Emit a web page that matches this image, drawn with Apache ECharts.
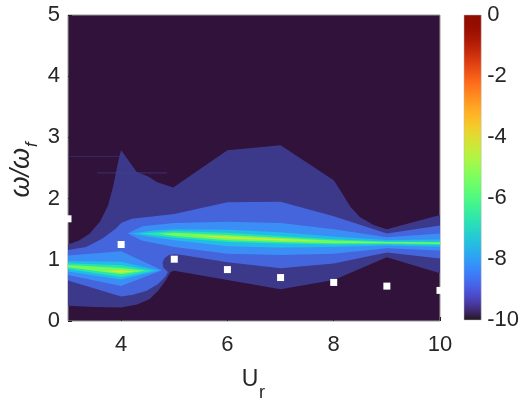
<!DOCTYPE html>
<html><head><meta charset="utf-8">
<script src="https://cdn.jsdelivr.net/npm/echarts@6/dist/echarts.min.js"></script>
<style>html,body{margin:0;padding:0;background:#fff}#c{width:522px;height:401px}</style>
</head><body><div id="c"></div>
<script>
// ---- data ----
const urTicks = [4, 6, 8, 10];
const omegaRange = [0, 5];
const urRange = [3, 10];
const cbarRange = [-10, 0];

// white markers
const markerUr = [3, 4, 5, 6, 7, 8, 9, 10];
const markerOmega = [1.67, 1.25, 1.01, 0.84, 0.71, 0.63, 0.57, 0.50];

// contour band outlines [Ur, omega/omega_f]
const band95 = [[3,1.25],[3.2,1.31],[3.4,1.42],[3.6,1.62],[3.75,1.88],[3.85,2.2],[3.92,2.5],[3.97,2.7],[4,2.79],
  [4.29,2.44],[4.51,2.36],[4.67,2.27],[4.98,2.18],[6,2.79],[7,2.87],[8,2.30],[8.12,2.14],[8.31,1.87],[8.49,1.70],
  [8.75,1.57],[9,1.50],[10,1.73],[10,0.78],[9,1.04],[8,0.67],[7,0.52],[6,0.67],[5,0.82],[4.93,0.80],[4.85,0.68],
  [4.7,0.50],[4.54,0.36],[4.3,0.27],[4,0.22],[3.5,0.23],[3,0.25]];
const band90 = [[3,1.16],[3.34,1.21],[3.65,1.35],[3.9,1.51],[4,1.60],[4.2,1.67],[4.5,1.70],[5,1.75],[6,1.94],[7,1.95],
  [8,1.71],[9,1.43],[10,1.56],[10,1.02],[9,1.12],[8,0.94],[7,0.86],[6,0.96],[5.15,1.08],[5.0,1.09],[4.9,1.08],
  [4.82,1.03],[4.78,0.96],[4.79,0.88],[4.88,0.80],[4.84,0.73],[4.69,0.60],[4.47,0.49],[4.22,0.43],[4,0.40],[3,0.66]];
const band85Left = [[3,1.07],[4,1.14],[4.77,0.83],[4,0.57],[3,0.75]];
const band85Right = [[4.12,1.43],[4.4,1.55],[5,1.60],[6,1.62],[7,1.60],[8,1.50],[9,1.37],[10,1.43],
  [10,1.15],[9,1.19],[8,1.10],[7,1.08],[6,1.10],[5,1.21],[4.4,1.31]];
const band80Left = [[3,0.98],[4,0.97],[4.72,0.825],[4,0.68],[3,0.81]];
const band80Right = [[4.2,1.43],[4.6,1.48],[5,1.50],[6,1.49],[7,1.45],[8,1.38],[9,1.325],[10,1.33],
  [10,1.215],[9,1.235],[8,1.21],[7,1.20],[6,1.22],[5,1.32],[4.6,1.37]];
const band75Left = [[3,0.945],[4,0.91],[4.6,0.822],[4,0.72],[3,0.85]];
const band75Right = [[4.35,1.43],[5,1.47],[6,1.44],[7,1.39],[8,1.335],[9,1.30],[10,1.295],
  [10,1.245],[9,1.26],[8,1.25],[7,1.265],[6,1.29],[5,1.36]];
const band70Left = [[3,0.915],[4,0.865],[4.45,0.82],[4,0.765],[3,0.88]];
const band70Right = [[4.7,1.425],[5,1.44],[6,1.405],[7,1.36],[8,1.315],[9,1.29],[10,1.282],
  [10,1.258],[9,1.27],[8,1.27],[7,1.29],[6,1.32],[5,1.39]];
const band65Left = [[3.7,0.815],[4,0.835],[4.25,0.81],[4,0.79]];
const band65Right = [[5.3,1.40],[6,1.38],[7,1.34],[7.8,1.31],[7,1.315],[6,1.35]];
// thin streak artefacts
const streak1 = [[3,2.69],[3.98,2.69]];
const streak2 = [[3.55,2.42],[4.86,2.42]];

// ---- build ----
const bandColors = {'-9.5':'#3d398a','-9':'#4465dc','-8.5':'#3b8ef5','-8':'#22bce9','-7.5':'#2ae3ad','-7':'#72f95c','-6.5':'#c4ee3a'};
const bandPolys = [
  {lv:-9.5, pts:band95},{lv:-9, pts:band90},
  {lv:-8.5, pts:band85Left},{lv:-8.5, pts:band85Right},
  {lv:-8, pts:band80Left},{lv:-8, pts:band80Right},
  {lv:-7.5, pts:band75Left},{lv:-7.5, pts:band75Right},
  {lv:-7, pts:band70Left},{lv:-7, pts:band70Right},
  {lv:-6.5, pts:band65Left},{lv:-6.5, pts:band65Right}
];

function turbo(t){
  t=Math.max(0,Math.min(1,t));
  const r=0.13572138+t*(4.61539260+t*(-42.66032258+t*(132.13108234+t*(-152.94239396+t*59.28637943))));
  const g=0.09140261+t*(2.19418839+t*(4.84296658+t*(-14.18503333+t*(4.27729857+t*2.82956604))));
  const b=0.10667330+t*(12.64194608+t*(-60.58204836+t*(110.36276771+t*(-89.90310912+t*27.34824973))));
  const c=v=>Math.round(Math.max(0,Math.min(1,v))*255);
  return 'rgb('+c(r)+','+c(g)+','+c(b)+')';
}
const stops=[]; for(let i=0;i<=40;i++){stops.push({offset:i/40,color:turbo(i/40)});}

const FONT='"Liberation Sans", Arial, Helvetica, sans-serif';
const TXT='#262626';
const chart = echarts.init(document.getElementById('c'), null, {renderer:'canvas'});
chart.setOption({
  animation:false,
  grid:[
    {left:68, top:15, width:372, height:306, show:true, backgroundColor:'#30123b', borderColor:'#9a9a9a', borderWidth:1, z:0},
    {left:464, top:15, width:21, height:305, show:false}
  ],
  xAxis:[
    {type:'value', gridIndex:0, min:urRange[0], max:urRange[1],
     axisLine:{show:false}, splitLine:{show:false},
     axisTick:{show:true, inside:true, length:4, customValues:urTicks, lineStyle:{color:'#222'}},
     axisLabel:{customValues:urTicks, margin:13, fontSize:22, color:TXT, fontFamily:FONT}},
    {type:'value', gridIndex:1, min:0, max:1, show:false}
  ],
  yAxis:[
    {type:'value', gridIndex:0, min:omegaRange[0], max:omegaRange[1], interval:1,
     axisLine:{show:false}, splitLine:{show:false},
     axisTick:{show:true, inside:true, length:4, lineStyle:{color:'#222'}},
     axisLabel:{margin:8, fontSize:22, color:TXT, fontFamily:FONT}},
    {type:'value', gridIndex:1, min:cbarRange[0], max:cbarRange[1], interval:2, position:'right',
     axisLine:{show:false}, splitLine:{show:false}, axisTick:{show:false},
     axisLabel:{margin:6, fontSize:22, color:TXT, fontFamily:FONT}}
  ],
  series:[
    {type:'custom', xAxisIndex:0, yAxisIndex:0, clip:true, silent:true, z:1,
     data: bandPolys.map((p,i)=>[urRange[0], omegaRange[0], i]),
     renderItem:function(params, api){
       const poly = bandPolys[params.dataIndex];
       return {type:'polygon', shape:{points: poly.pts.map(p=>api.coord(p))},
               style:{fill: bandColors[String(poly.lv)], stroke:null}};
     }},
    {type:'line', xAxisIndex:0, yAxisIndex:0, data:streak1, symbol:'none', silent:true, z:2,
     lineStyle:{color:'#3f3a85', width:1, opacity:0.6}},
    {type:'line', xAxisIndex:0, yAxisIndex:0, data:streak2, symbol:'none', silent:true, z:2,
     lineStyle:{color:'#4a4592', width:1, opacity:0.6}},
    {type:'scatter', xAxisIndex:0, yAxisIndex:0, clip:true, silent:true, z:5,
     symbol:'rect', symbolSize:7, itemStyle:{color:'#ffffff', opacity:1},
     data: markerUr.map((u,i)=>[u, markerOmega[i]])},
    {type:'custom', xAxisIndex:1, yAxisIndex:1, silent:true,
     data:[[0, cbarRange[0], 1, cbarRange[1]]],
     renderItem:function(params, api){
       const p0 = api.coord([api.value(0), api.value(1)]);
       const p1 = api.coord([api.value(2), api.value(3)]);
       return {type:'rect', shape:{x:p0[0], y:p1[1], width:p1[0]-p0[0], height:p0[1]-p1[1]},
         style:{fill:{type:'linear', x:0, y:1, x2:0, y2:0, colorStops:stops}, stroke:'#bbbbbb', lineWidth:0.5}};
     }}
  ],
  graphic:[
    {type:'group', x:21, y:148, rotation:Math.PI/2, children:[
      {type:'text', x:0, y:0, style:{text:'ω/ω', font:'italic 27px "Liberation Sans"', fill:TXT, textAlign:'right', textVerticalAlign:'middle', align:'right', verticalAlign:'middle'}},
      {type:'text', x:1, y:11, style:{text:'f', font:'italic 17px "Liberation Sans"', fill:TXT, textAlign:'left', textVerticalAlign:'middle', align:'left', verticalAlign:'middle'}}
    ]},
    {type:'text', x:250, y:380, style:{text:'U', font:'23px '+FONT, fill:TXT, textAlign:'center', textVerticalAlign:'middle', align:'center', verticalAlign:'middle'}},
    {type:'text', x:259, y:393, style:{text:'r', font:'18px '+FONT, fill:TXT, textAlign:'left', textVerticalAlign:'middle', align:'left', verticalAlign:'middle'}}
  ]
});
</script></body></html>
